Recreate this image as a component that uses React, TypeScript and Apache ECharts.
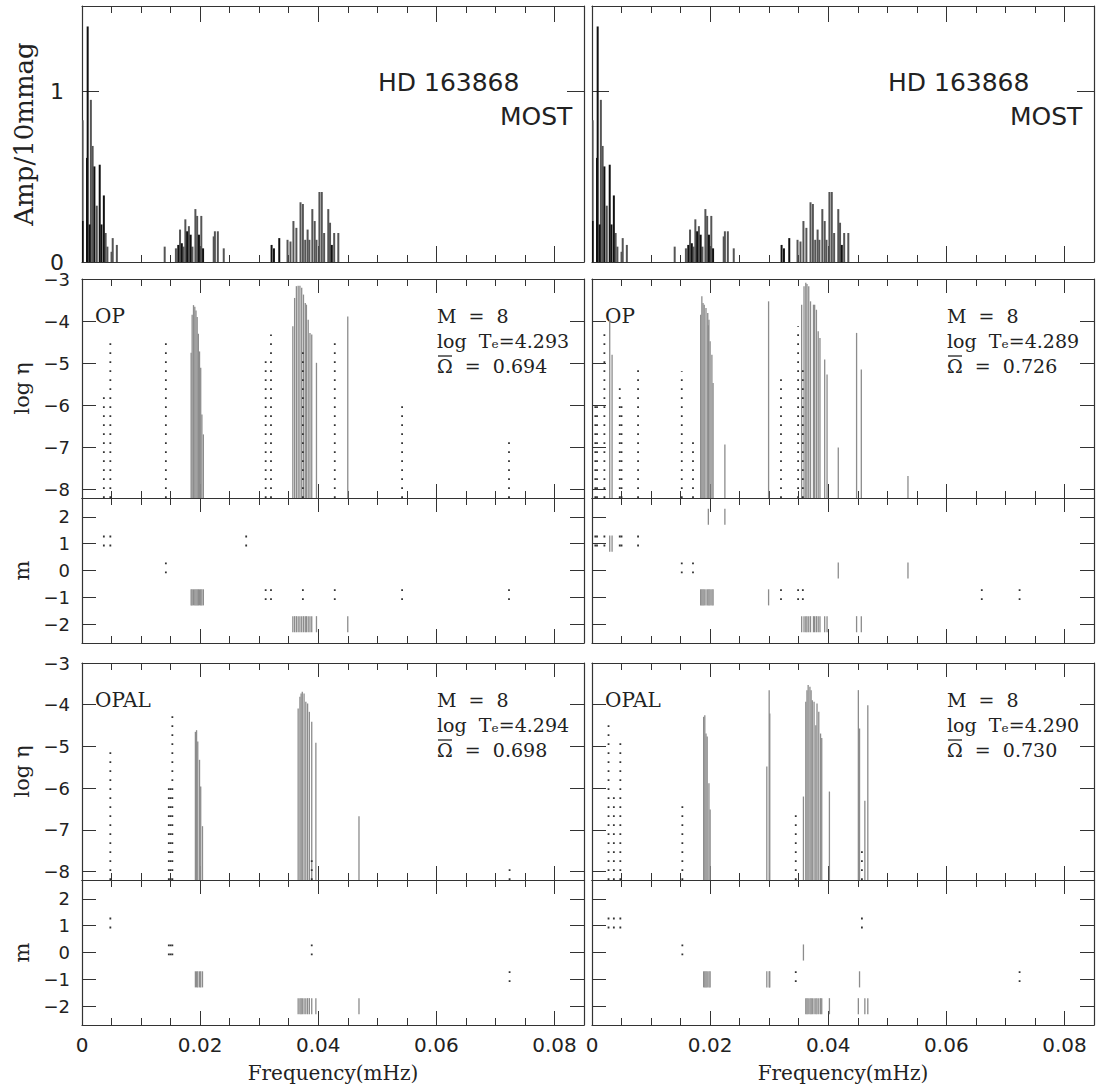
import { useEffect, useRef } from 'react';
import * as echarts from 'echarts';

// ---------------- data ----------------
const xTickLabels = [0, 0.02, 0.04, 0.06, 0.08];
const xMinorTicks = [0.005, 0.01, 0.015, 0.025, 0.03, 0.035, 0.045, 0.05, 0.055, 0.065, 0.07, 0.075];
const ampTicks = [0, 1];
const etaTicks = [-8, -7, -6, -5, -4, -3];
const mTicks = [-2, -1, 0, 1, 2];

// observed amplitude spectrum [freq mHz, amp / 10 mmag]
const ampGrey = [
  [0.0001, 0.83], [0.0015, 0.95], [0.0018, 0.68], [0.0025, 0.33], [0.004, 0.17], [0.0043, 0.09], [0.005, 0.06], [0.0052, 0.14], [0.0059, 0.1],
  [0.014, 0.09], [0.0159, 0.08], [0.0166, 0.19], [0.0172, 0.09], [0.0175, 0.25], [0.0181, 0.21], [0.0187, 0.09], [0.0192, 0.31], [0.0195, 0.27], [0.0202, 0.27], [0.0223, 0.15], [0.0225, 0.18], [0.023, 0.18], [0.024, 0.08],
  [0.0348, 0.13], [0.0353, 0.12], [0.0358, 0.24], [0.0363, 0.2], [0.037, 0.35], [0.0374, 0.34], [0.0378, 0.13], [0.0382, 0.19], [0.0385, 0.13], [0.039, 0.31], [0.0394, 0.24], [0.0397, 0.13], [0.0402, 0.41], [0.0406, 0.41], [0.041, 0.17], [0.0417, 0.31], [0.042, 0.23], [0.0427, 0.17], [0.0434, 0.17],
];
const ampDark = [
  [0.0001, 0.24], [0.00085, 0.61], [0.00096, 1.38], [0.0013, 0.22], [0.0021, 0.56], [0.003, 0.57], [0.0033, 0.22], [0.0037, 0.39],
  [0.0163, 0.1], [0.0169, 0.11], [0.0178, 0.18], [0.0184, 0.16], [0.0198, 0.16], [0.0205, 0.08],
  [0.0321, 0.1], [0.0325, 0.08], [0.0334, 0.14], [0.0423, 0.1],
];

// model modes [freq mHz, log eta (null = below plotted range), m]
const opLeftSolid = [
  [0.01848, -4.75, -1], [0.01865, -3.85, -1], [0.01888, -3.62, -1], [0.0191, -3.66, -1], [0.0193, -3.75, -1], [0.0195, -3.9, -1], [0.0197, -4.3, -1], [0.0199, -4.72, -1], [0.0201, -5.11, -1], [0.0203, -6.22, -1], [0.02055, -6.69, -1],
  [0.0357, -4.12, -2], [0.036, -3.45, -2], [0.0363, -3.17, -2], [0.0366, -3.16, -2], [0.0369, -3.16, -2], [0.0372, -3.21, -2], [0.0375, -3.37, -2], [0.0378, -3.57, -2], [0.038, -3.61, -2], [0.0383, -3.97, -2], [0.0386, -4.28, -2], [0.0389, -4.32, -2], [0.0397, -4.99, -2], [0.045, -3.89, -2],
];
const opLeftDotted = [
  [0.0037, -5.8, 1], [0.0048, -4.52, 1], [0.0142, -4.52, 0], [0.0278, null, 1], [0.0311, -4.95, -1], [0.032, -4.32, -1], [0.0374, -4.72, -1], [0.0428, -4.52, -1], [0.0542, -6.0, -1], [0.0723, -6.8, -1],
];
const opRightSolid = [
  [0.003, -3.97, 1], [0.0034, -4.8, 1],
  [0.0184, -3.85, -1], [0.0186, -3.41, -1], [0.0188, -3.57, -1], [0.019, -3.61, -1], [0.0193, -3.69, -1], [0.0196, -3.81, -1], [0.0198, -3.97, -1], [0.02, -4.48, -1], [0.0203, -4.8, -1], [0.0205, -5.47, -1],
  [0.0197, -4.1, 2], [0.0225, -6.93, 2], [0.0299, -3.53, -1],
  [0.0355, -3.61, -2], [0.0359, -3.17, -2], [0.0362, -3.09, -2], [0.0364, -3.12, -2], [0.0367, -3.17, -2], [0.037, -3.53, -2], [0.0375, -3.61, -2], [0.0377, -3.61, -2], [0.038, -3.73, -2], [0.0383, -4.24, -2], [0.0386, -4.4, -2], [0.0394, -4.91, -2], [0.0398, -5.27, -2],
  [0.0417, -7.0, 0], [0.0448, -4.28, -2], [0.0456, -5.15, -2], [0.0535, -7.68, 0],
];
const opRightDotted = [
  [0.00056, -6.02, 1], [0.00085, -6.02, 1], [0.0021, -4.28, 1], [0.0047, -5.59, 1], [0.005, -6.0, 1], [0.0078, -5.15, 1],
  [0.0152, -5.19, 0], [0.0171, -6.85, 0], [0.032, -5.35, -1], [0.0349, -4.12, -1], [0.0357, -5.0, -1], [0.066, null, -1], [0.0724, null, -1],
];
const opalLeftSolid = [
  [0.0192, -4.65, -1], [0.0194, -4.61, -1], [0.0196, -4.88, -1], [0.0199, -5.32, -1], [0.0201, -5.96, -1], [0.0204, -6.91, -1],
  [0.0366, -4.09, -2], [0.0369, -3.81, -2], [0.0371, -3.73, -2], [0.0373, -3.69, -2], [0.0376, -3.73, -2], [0.0379, -3.93, -2], [0.0382, -3.97, -2], [0.0385, -4.17, -2], [0.0389, -4.41, -2], [0.0396, -4.91, -2], [0.0469, -6.67, -2],
];
const opalLeftDotted = [
  [0.0048, -5.12, 1], [0.0147, -5.96, 0], [0.015, -5.96, 0], [0.0153, -4.25, 0], [0.0389, -7.67, 0], [0.0724, -7.8, -1],
];
const opalRightSolid = [
  [0.0189, -4.29, -1], [0.0191, -4.25, -1], [0.0193, -4.69, -1], [0.0195, -4.76, -1], [0.0198, -5.88, -1], [0.02, -6.51, -1],
  [0.0296, -5.48, -1], [0.03, -3.65, -1], [0.0301, -4.21, -1], [0.0358, -6.2, 0],
  [0.0362, -3.93, -2], [0.0364, -3.65, -2], [0.0366, -3.53, -2], [0.0369, -3.57, -2], [0.0371, -3.65, -2], [0.0373, -3.89, -2], [0.0376, -3.93, -2], [0.0379, -4.49, -2], [0.0381, -3.97, -2], [0.0384, -4.17, -2], [0.0387, -4.69, -2], [0.0389, -4.8, -2], [0.0402, -6.08, -2],
  [0.0451, -3.65, -2], [0.0453, -4.57, -1], [0.0462, -6.3, -2], [0.0467, -4.01, -2],
];
const opalRightDotted = [
  [0.0028, -4.49, 1], [0.0037, -6.2, 1], [0.0048, -4.92, 1], [0.0153, -6.43, 0], [0.0345, -6.59, -1], [0.0457, -7.47, 1], [0.0724, null, -1],
];

const modelLabels = ['OP', 'OP', 'OPAL', 'OPAL'];
const modelMass = ['8', '8', '8', '8'];
const modelLogTe = ['4.293', '4.289', '4.294', '4.290'];
const modelOmega = ['0.694', '0.726', '0.698', '0.730'];
const starName = 'HD 163868';
const instrument = 'MOST';

// ---------------- layout / style ----------------
const SANS = 'DejaVu Sans';
const SERIF = 'DejaVu Serif';
const AXIS_COLOR = '#333';
const TEXT_COLOR = '#222';
const COL_LEFT = [82, 592];
const COL_WIDTH = 502;
const ROW_TOP = [6, 279, 498, 663, 880];
const ROW_HEIGHT = [256, 219, 145, 217, 145];
const ROW_KIND = ['amp', 'eta', 'm', 'eta', 'm'];

const fmtNum = (v: number) => {
  const r = Math.round(v * 1000) / 1000;
  return r < 0 ? '\u2212' + String(Math.abs(r)) : String(r);
};

function stickSeries(gi: number, data: number[][], base: number, color: string, width: number, dash?: number[]) {
  return {
    type: 'custom',
    xAxisIndex: gi * 4,
    yAxisIndex: gi * 2,
    clip: true,
    data,
    renderItem: (_p: any, api: any) => {
      const f = api.value(0);
      const v = api.value(1);
      const p1 = api.coord([f, v]);
      const p0 = api.coord([f, base]);
      return {
        type: 'line',
        shape: { x1: p0[0], y1: p0[1], x2: p1[0], y2: p1[1] },
        style: { stroke: color, lineWidth: width, lineDash: dash || null, lineCap: 'butt' },
      };
    },
  };
}

function mSeries(gi: number, data: number[][], color: string, width: number, dash?: number[]) {
  return {
    type: 'custom',
    xAxisIndex: gi * 4,
    yAxisIndex: gi * 2,
    clip: true,
    data,
    renderItem: (_p: any, api: any) => {
      const f = api.value(0);
      const m = api.value(1);
      const p1 = api.coord([f, m + 0.3]);
      const p0 = api.coord([f, m - 0.3]);
      return {
        type: 'line',
        shape: { x1: p1[0], y1: p1[1], x2: p0[0], y2: p0[1] },
        style: { stroke: color, lineWidth: width, lineDash: dash || null, lineCap: 'butt' },
      };
    },
  };
}

const etaData = (arr: any[]) => arr.filter((d) => d[1] !== null).map((d) => [d[0], d[1]]);
const mData = (arr: any[]) => arr.map((d) => [d[0], d[2]]);

function buildOption() {
  const grid: any[] = [];
  const xAxis: any[] = [];
  const yAxis: any[] = [];
  const series: any[] = [];
  const graphic: any[] = [];
  const tickStyle = { color: AXIS_COLOR, width: 1 };
  const axisLine = { show: true, onZero: false, lineStyle: { color: AXIS_COLOR, width: 1.2 } };
  const hiddenLine = { show: false, onZero: false };

  const models = [
    [opLeftSolid, opLeftDotted, opalLeftSolid, opalLeftDotted],
    [opRightSolid, opRightDotted, opalRightSolid, opalRightDotted],
  ];

  for (let c = 0; c < 2; c++) {
    for (let r = 0; r < 5; r++) {
      const gi = c * 5 + r;
      const kind = ROW_KIND[r];
      grid.push({ left: COL_LEFT[c], top: ROW_TOP[r], width: COL_WIDTH, height: ROW_HEIGHT[r] });
      const majorLen = kind === 'amp' ? 16 : 14;
      const isBottom = r === 4;
      for (const pos of ['bottom', 'top']) {
        const showLab = isBottom && pos === 'bottom';
        xAxis.push({
          type: 'value', gridIndex: gi, position: pos, min: 0, max: 0.085, interval: 0.02,
          axisLine,
          axisTick: { show: true, inside: true, length: majorLen, customValues: xTickLabels, lineStyle: tickStyle },
          axisLabel: {
            show: showLab, customValues: xTickLabels, margin: 10,
            formatter: (v: number) => (xTickLabels.some((t) => Math.abs(t - v) < 1e-9) ? fmtNum(v) : ''),
            fontFamily: SANS, fontSize: 20, color: TEXT_COLOR,
          },
          splitLine: { show: false },
          name: showLab ? 'Frequency(mHz)' : '',
          nameLocation: 'middle', nameGap: 38,
          nameTextStyle: { fontFamily: SERIF, fontSize: 20, color: TEXT_COLOR },
        });
        xAxis.push({
          type: 'value', gridIndex: gi, position: pos, min: 0, max: 0.085, interval: 0.005,
          axisLine: hiddenLine,
          axisTick: { show: true, inside: true, length: 7, customValues: xMinorTicks, lineStyle: tickStyle },
          axisLabel: { show: false },
          splitLine: { show: false },
        });
      }
      let min = 0, max = 1.5, ticks = ampTicks, title = 'Amp/10mmag', gap = 45, tlen = 17, lfs = 22, tfs = 26, lmargin = 18;
      if (kind === 'eta') { min = -8.2; max = -3; ticks = etaTicks; title = 'log \u03B7'; gap = 50; tlen = 14; lfs = 18; tfs = 21; lmargin = 12; }
      if (kind === 'm') { min = -2.7; max = 2.7; ticks = mTicks; title = 'm'; gap = 50; tlen = 14; lfs = 18; tfs = 21; lmargin = 12; }
      for (const pos of ['left', 'right']) {
        const showLab = c === 0 && pos === 'left';
        yAxis.push({
          type: 'value', gridIndex: gi, position: pos, min, max,
          axisLine,
          axisTick: { show: true, inside: true, length: tlen, customValues: ticks, lineStyle: tickStyle },
          axisLabel: {
            show: showLab, customValues: ticks, margin: lmargin,
            formatter: (v: number) => fmtNum(v),
            fontFamily: SANS, fontSize: lfs, color: TEXT_COLOR,
          },
          splitLine: { show: false },
          name: showLab ? title : '',
          nameLocation: 'middle', nameGap: gap, nameRotate: 90,
          nameTextStyle: { fontFamily: SERIF, fontSize: tfs, color: TEXT_COLOR },
        });
      }

      if (kind === 'amp') {
        series.push(stickSeries(gi, ampGrey, 0, '#555', 2));
        series.push(stickSeries(gi, ampDark, 0, '#111', 2));
        graphic.push({
          type: 'text', x: COL_LEFT[c] + 296, y: ROW_TOP[r] + 76,
          style: { text: starName, fontFamily: SANS, fontSize: 25, fill: TEXT_COLOR, align: 'left', verticalAlign: 'middle' },
        });
        graphic.push({
          type: 'text', x: COL_LEFT[c] + 418, y: ROW_TOP[r] + 110,
          style: { text: instrument, fontFamily: SANS, fontSize: 25, fill: TEXT_COLOR, align: 'left', verticalAlign: 'middle' },
        });
      } else {
        const mi = r < 3 ? 0 : 2;
        const solid = models[c][mi];
        const dotted = models[c][mi + 1];
        if (kind === 'eta') {
          series.push(stickSeries(gi, etaData(solid), -8.2, '#8c8c8c', 1.3));
          series.push(stickSeries(gi, etaData(dotted), -8.2, '#333', 1.8, [1.8, 7.2]));
          const k = (r < 3 ? 0 : 2) + c;
          const gx = COL_LEFT[c];
          const gy = ROW_TOP[r];
          graphic.push({
            type: 'text', x: gx + 13, y: gy + 37,
            style: { text: modelLabels[k], fontFamily: SERIF, fontSize: 20, fill: TEXT_COLOR, align: 'left', verticalAlign: 'middle' },
          });
          const lines = [
            'M  =  ' + modelMass[k],
            'log  T\u2091=' + modelLogTe[k],
            '\u03A9  =  ' + modelOmega[k],
          ];
          lines.forEach((t, i) => {
            graphic.push({
              type: 'text', x: gx + 355, y: gy + 37 + i * 25,
              style: { text: t, fontFamily: SERIF, fontSize: 19, fill: TEXT_COLOR, align: 'left', verticalAlign: 'middle' },
            });
          });
          // overline of Omega
          graphic.push({
            type: 'line',
            shape: { x1: gx + 356, y1: gy + 37 + 50 - 10, x2: gx + 370, y2: gy + 37 + 50 - 10 },
            style: { stroke: TEXT_COLOR, lineWidth: 1.3 },
          });
        } else {
          series.push(mSeries(gi, mData(solid), '#8c8c8c', 1.3));
          series.push(mSeries(gi, mData(dotted), '#333', 1.8, [1.8, 7.2]));
        }
      }
    }
  }

  return { animation: false, backgroundColor: '#fff', grid, xAxis, yAxis, series, graphic };
}

export default function App() {
  const ref = useRef<HTMLDivElement>(null);
  useEffect(() => {
    if (!ref.current) return;
    const chart = echarts.init(ref.current, undefined, { renderer: 'svg' });
    chart.setOption(buildOption() as any);
    return () => chart.dispose();
  }, []);
  return (
    <div
      ref={ref}
      style={{ position: 'absolute', left: 0, top: 0, width: 1096, height: 1090, background: '#fff' }}
    />
  );
}
